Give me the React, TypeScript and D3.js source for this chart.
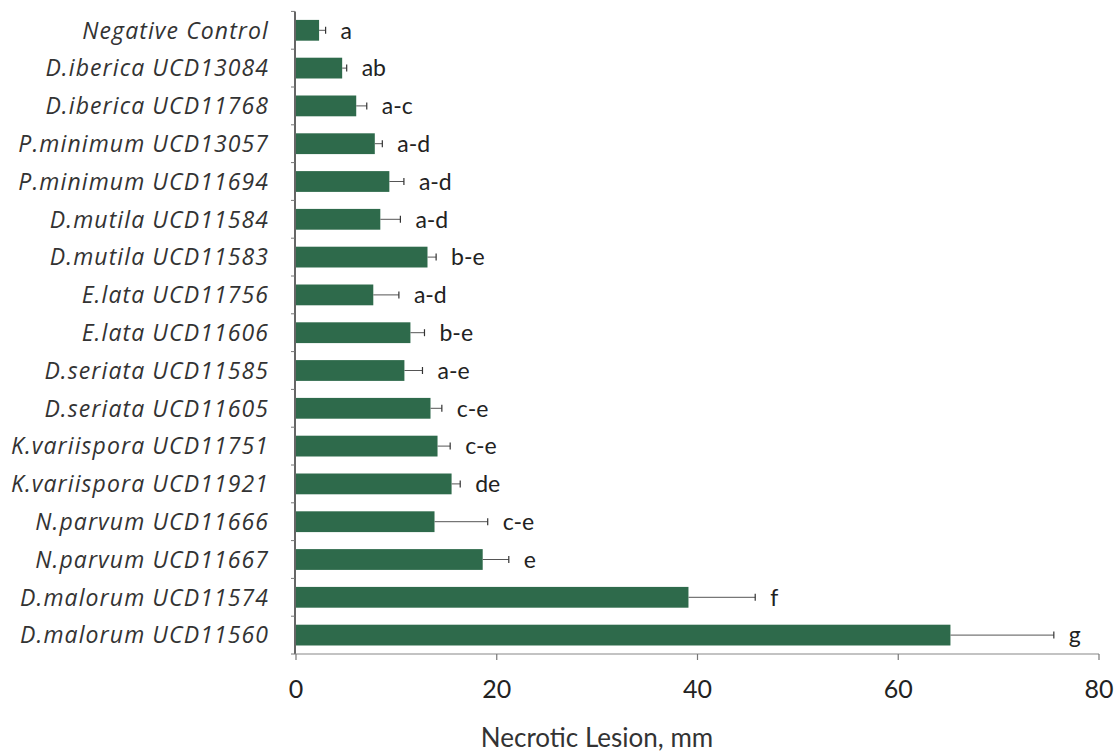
import React from "react";
import * as d3 from "d3";

const categories = [
  "Negative Control",
  "D.iberica UCD13084",
  "D.iberica UCD11768",
  "P.minimum UCD13057",
  "P.minimum UCD11694",
  "D.mutila UCD11584",
  "D.mutila UCD11583",
  "E.lata UCD11756",
  "E.lata UCD11606",
  "D.seriata UCD11585",
  "D.seriata UCD11605",
  "K.variispora UCD11751",
  "K.variispora UCD11921",
  "N.parvum UCD11666",
  "N.parvum UCD11667",
  "D.malorum UCD11574",
  "D.malorum UCD11560",
];

const means = [2.3, 4.6, 6.0, 7.85, 9.3, 8.4, 13.1, 7.7, 11.4, 10.8, 13.4, 14.1, 15.5, 13.8, 18.6, 39.1, 65.2];
const errors = [0.65, 0.45, 1.05, 0.75, 1.45, 2.0, 0.86, 2.55, 1.4, 1.8, 1.13, 1.26, 0.86, 5.3, 2.6, 6.65, 10.3];
const letters = ["a", "ab", "a-c", "a-d", "a-d", "a-d", "b-e", "a-d", "b-e", "a-e", "c-e", "c-e", "de", "c-e", "e", "f", "g"];

const xTicks = [0, 20, 40, 60, 80];
const xTitle = "Necrotic Lesion, mm";

const W = 1118;
const H = 753;
const X0 = 296;
const X1 = 1099;
const YTOP = 11.4;
const YBOT = 654;

export default function App() {
  const x = d3.scaleLinear().domain([0, 80]).range([X0, X1]);
  const y = d3.scaleBand<string>().domain(categories).range([YTOP, YBOT]).padding(0);
  const step = y.step();
  const barH = step * 0.55;
  const font = "Lato, 'Open Sans', sans-serif";
  const catFont = "'Open Sans', Lato, sans-serif";

  return (
    <svg width={W} height={H} style={{ position: "absolute", left: 0, top: 0, background: "#fff" }}>
      {categories.map((c, i) => {
        const cy = (y(c) as number) + step / 2;
        const xe = x(means[i] + errors[i]);
        return (
          <g key={c}>
            <rect x={x(0)} y={cy - barH / 2} width={x(means[i]) - x(0)} height={barH} fill="#2e6a4b" />
            <line x1={x(means[i])} x2={xe} y1={cy} y2={cy} stroke="#555" strokeWidth={1} />
            <line x1={xe} x2={xe} y1={cy - 3.5} y2={cy + 3.5} stroke="#333" strokeWidth={1.2} />
            <text x={xe + 15} y={cy} dy="0.36em" fontFamily={font} fontSize={23} fill="#222">
              {letters[i]}
            </text>
            <text
              x={269}
              y={cy}
              dy="0.36em"
              textAnchor="end"
              fontFamily={catFont}
              fontStyle="italic"
              fontSize={23}
              letterSpacing={1.1}
              fill="#333"
            >
              {c}
            </text>
          </g>
        );
      })}
      <line x1={X0 - 1} x2={X0 - 1} y1={YTOP} y2={YBOT} stroke="#333" strokeWidth={1.5} />
      {d3.range(categories.length + 1).map((k) => (
        <line key={k} x1={X0 - 5} x2={X0 - 1} y1={YTOP + k * step} y2={YTOP + k * step} stroke="#777" strokeWidth={1} />
      ))}
      <line x1={X0 - 1} x2={X1} y1={YBOT} y2={YBOT} stroke="#888" strokeWidth={1.2} />
      {xTicks.map((t) => (
        <g key={t}>
          <line x1={x(t)} x2={x(t)} y1={YBOT} y2={YBOT + 6} stroke="#777" strokeWidth={1.2} />
          <text x={x(t)} y={697.5} textAnchor="middle" fontFamily={font} fontSize={25} fill="#222">
            {t}
          </text>
        </g>
      ))}
      <text x={597} y={747} textAnchor="middle" fontFamily={font} fontSize={26} fill="#333">
        {xTitle}
      </text>
    </svg>
  );
}
